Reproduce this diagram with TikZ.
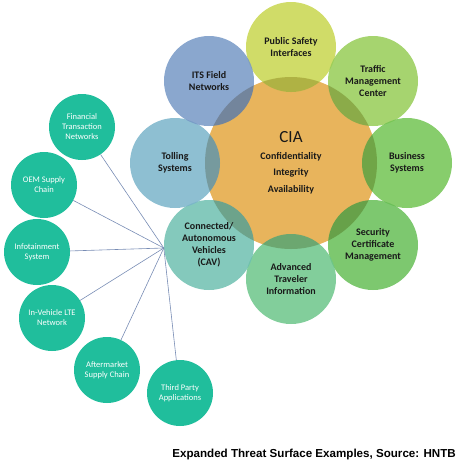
\documentclass[tikz,border=0pt]{standalone}
\usepackage{fontspec}
\setmainfont{Carlito}
\newfontfamily\captionfont{Liberation Sans}
\usepackage{tikz}
\usepackage{xcolor}
\usetikzlibrary{positioning}

\definecolor{ciaorange}{RGB}{232,180,92}
\definecolor{pubgreen}{RGB}{200,214,78}
\definecolor{trafgreen}{RGB}{150,204,86}
\definecolor{busgreen}{RGB}{114,196,82}
\definecolor{secgreen}{RGB}{102,190,86}
\definecolor{advgreen}{RGB}{108,198,138}
\definecolor{cavteal}{RGB}{110,192,176}
\definecolor{tollblue}{RGB}{122,180,202}
\definecolor{itsblue}{RGB}{118,152,198}
\definecolor{threatteal}{RGB}{32,190,156}
\definecolor{spokeline}{RGB}{120,140,180}

\tikzset{
  core/.style={circle, minimum size=172pt, inner sep=0pt, fill=ciaorange, align=center,
    font=\fontsize{10}{16.5}\selectfont\bfseries, text=black!90},
  surface/.style={circle, minimum size=90pt, inner sep=0pt, fill opacity=0.85, text opacity=1,
    align=center, font=\fontsize{10}{12}\selectfont\bfseries, text=black!90},
  threat/.style={circle, minimum size=66pt, inner sep=0pt, fill=threatteal, align=center,
    font=\fontsize{8.5}{10}\selectfont, text=white},
  spoke/.style={draw=spokeline, line width=0.6pt}
}

\begin{document}
\begin{tikzpicture}[x=1pt, y=-1pt]
\useasboundingbox (0,0) rectangle (467,475);

% CIA core
\node[core] (cia) at (291,163) {{\fontsize{17}{20}\selectfont\mdseries CIA}\\Confidentiality\\Integrity\\Availability};

% Attack surfaces round the core
\node[surface, fill=pubgreen] (pub) at (291,47) {Public Safety\\Interfaces};
\node[surface, fill=trafgreen] (traf) at (373,81) {Traffic\\Management\\Center};
\node[surface, fill=busgreen] (bus) at (407,163) {Business\\Systems};
\node[surface, fill=secgreen] (sec) at (373,245) {Security\\Certificate\\Management};
\node[surface, fill=advgreen] (adv) at (291,279) {Advanced\\Traveler\\Information};
\node[surface, fill=cavteal] (cav) at (209,245) {Connected/\\Autonomous\\Vehicles\\(CAV)};
\node[surface, fill=tollblue] (toll) at (175,163) {Tolling\\Systems};
\node[surface, fill=itsblue] (its) at (209,81) {ITS Field\\Networks};

% darker overlap with the core
\begin{scope}
  \clip (cia.center) circle (86);
  \foreach \s in {pub,traf,bus,sec,adv,cav,toll,its}
    \fill[black, fill opacity=0.14] (\s.center) circle (45);
\end{scope}

% Vehicle threat examples
\node[threat] (fin) at (82,127) {Financial\\Transaction\\Networks};
\node[threat] (oem) at (44,185) {OEM Supply\\Chain};
\node[threat] (info) at (37,252) {Infotainment\\System};
\node[threat] (lte) at (52,318) {In-Vehicle LTE\\Network};
\node[threat] (after) at (107,370) {Aftermarket\\Supply Chain};
\node[threat] (third) at (180,393) {Third Party\\Applications};

\coordinate (hub) at ([yshift=-3pt]cav.west);
\draw[spoke] (hub) -- (fin);
\draw[spoke] (hub) -- (oem);
\draw[spoke] (hub) -- (info);
\draw[spoke] (hub) -- (lte);
\draw[spoke] (hub) -- (after);
\draw[spoke] (hub) -- (third);

% Caption
\node[anchor=east, inner sep=0pt, font=\captionfont\fontsize{11.6}{13}\selectfont\bfseries] (caption) at (456,454) {Expanded Threat Surface Examples, Source: HNTB};
\end{tikzpicture}
\end{document}
